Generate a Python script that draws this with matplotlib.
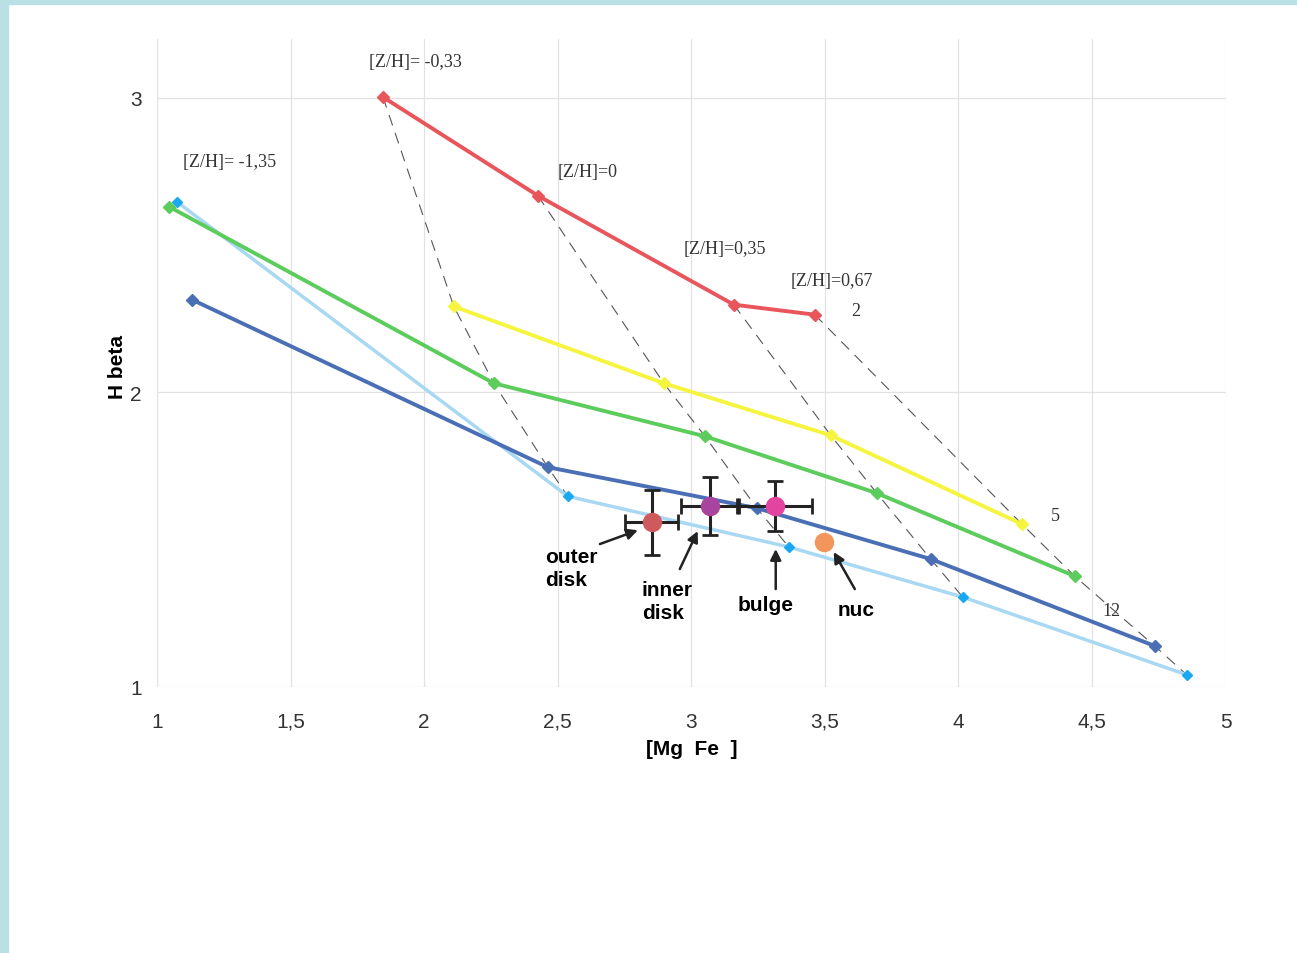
import numpy as np
import matplotlib.pyplot as plt
from matplotlib.patches import Rectangle

# model grids, one line per age, [MgFe] vs H beta
red_x = [1.846, 2.426, 3.159, 3.462]
red_y = [3.003, 2.668, 2.298, 2.264]
yel_x = [2.111, 2.897, 3.522, 4.237]
yel_y = [2.292, 2.031, 1.854, 1.553]
grn_x = [1.045, 2.261, 3.051, 3.694, 4.435]
grn_y = [2.631, 2.031, 1.851, 1.658, 1.376]
blu_x = [1.131, 2.463, 3.245, 3.896, 4.734]
blu_y = [2.315, 1.746, 1.607, 1.434, 1.139]
lbl_x = [1.075, 2.538, 3.365, 4.016, 4.854]
lbl_y = [2.647, 1.647, 1.475, 1.305, 1.041]

# measured regions
obs_names = ["outer\ndisk", "inner\ndisk", "bulge", "nuc"]
obs_x = [2.852, 3.069, 3.312, 3.496]
obs_y = [1.559, 1.614, 1.614, 1.492]
obs_xerr = [0.10, 0.108, 0.14, 0.0]
obs_yerr = [0.11, 0.097, 0.085, 0.0]
obs_col = ["#cf5a5e", "#a9449e", "#e2449f", "#f3965c"]

fig = plt.figure(figsize=(12.97, 9.54), dpi=100)
ax = fig.add_axes([0.121, 0.279, 0.824, 0.679])

# iso-metallicity dashed lines
for i in range(4):
    xs = [red_x[i], yel_x[i], grn_x[i+1], blu_x[i+1], lbl_x[i+1]]
    ys = [red_y[i], yel_y[i], grn_y[i+1], blu_y[i+1], lbl_y[i+1]]
    ax.plot(xs, ys, color="#555555", lw=0.8, dashes=(10, 7), zorder=2)

ax.plot(lbl_x, lbl_y, '-', color="#a8d8f2", lw=2.5, marker='D', ms=5, mfc="#1aa8f0", mec="#1aa8f0", zorder=3)
ax.plot(blu_x, blu_y, '-', color="#4a6fb5", lw=2.8, marker='D', ms=6, zorder=4)
ax.plot(grn_x, grn_y, '-', color="#5ccc5c", lw=2.8, marker='D', ms=6, zorder=4)
ax.plot(yel_x, yel_y, '-', color="#f5f540", lw=2.8, marker='D', ms=6, zorder=4)
ax.plot(red_x, red_y, '-', color="#e8565c", lw=2.8, marker='D', ms=6, zorder=4)

for i in range(3):
    ax.errorbar(obs_x[i], obs_y[i], xerr=obs_xerr[i], yerr=obs_yerr[i], fmt='none',
                ecolor="#222222", elinewidth=2.2, capsize=6, capthick=2, zorder=5)
for i in range(4):
    ax.plot(obs_x[i], obs_y[i], 'o', ms=13, color=obs_col[i], zorder=6)

# labels with arrows
arrow_tail = [(2.658, 1.485), (2.957, 1.400), (3.316, 1.332), (3.612, 1.332)]
arrow_head = [(2.800, 1.532), (3.024, 1.529), (3.316, 1.468), (3.533, 1.458)]
txt_pos = [(2.452, 1.403), (2.815, 1.292), (3.174, 1.278), (3.548, 1.264)]
for i in range(4):
    ax.annotate("", xy=arrow_head[i], xytext=arrow_tail[i],
                arrowprops=dict(arrowstyle="-|>", color="#222222", lw=1.8, mutation_scale=16,
                                shrinkA=0, shrinkB=0), zorder=7)
    ax.text(txt_pos[i][0], txt_pos[i][1], obs_names[i], fontsize=15, fontweight='bold',
            ha='left', va='center', linespacing=1.25, family='Liberation Sans')

serif = dict(family='Liberation Serif', fontsize=13, color="#333333")
ax.text(1.795, 3.11, "[Z/H]= -0,33", **serif)
ax.text(1.097, 2.77, "[Z/H]= -1,35", **serif)
ax.text(2.498, 2.735, "[Z/H]=0", **serif)
ax.text(2.973, 2.475, "[Z/H]=0,35", **serif)
ax.text(3.37, 2.365, "[Z/H]=0,67", **serif)
ax.text(3.6, 2.262, "2", **serif)
ax.text(4.345, 1.565, "5", **serif)
ax.text(4.54, 1.245, "12", **serif)

ax.set_xlim(1, 5)
ax.set_ylim(1, 3.2)
ax.set_xticks(np.arange(1, 5.01, 0.5))
ax.set_xticklabels(["1", "1,5", "2", "2,5", "3", "3,5", "4", "4,5", "5"])
ax.set_yticks([1, 2, 3])
ax.set_yticklabels(["1", "2", "3"])
ax.grid(True, color="#e2e2e2", lw=0.9)
for s in ax.spines.values():
    s.set_visible(False)
ax.tick_params(axis='x', length=0, labelsize=15, colors="#333333", pad=18)
ax.tick_params(axis='y', length=0, labelsize=15, colors="#333333", pad=11)
for lab in ax.get_xticklabels() + ax.get_yticklabels():
    lab.set_family('Liberation Sans')
ax.set_xlabel("[Mg  Fe  ]", fontsize=15, fontweight='bold', family='Liberation Sans', labelpad=6)
ax.set_ylabel("H beta", fontsize=15, fontweight='bold', family='Liberation Sans', labelpad=2)
ax.yaxis.set_label_coords(-0.028, 0.495)

# scan border
fig.patches.append(Rectangle((0, 0), 8/1297, 1, transform=fig.transFigure, color="#b9e0e4", zorder=0))
fig.patches.append(Rectangle((0, 1-5/954), 1, 5/954, transform=fig.transFigure, color="#b9e0e4", zorder=0))

fig.savefig("out.png", dpi=100)
